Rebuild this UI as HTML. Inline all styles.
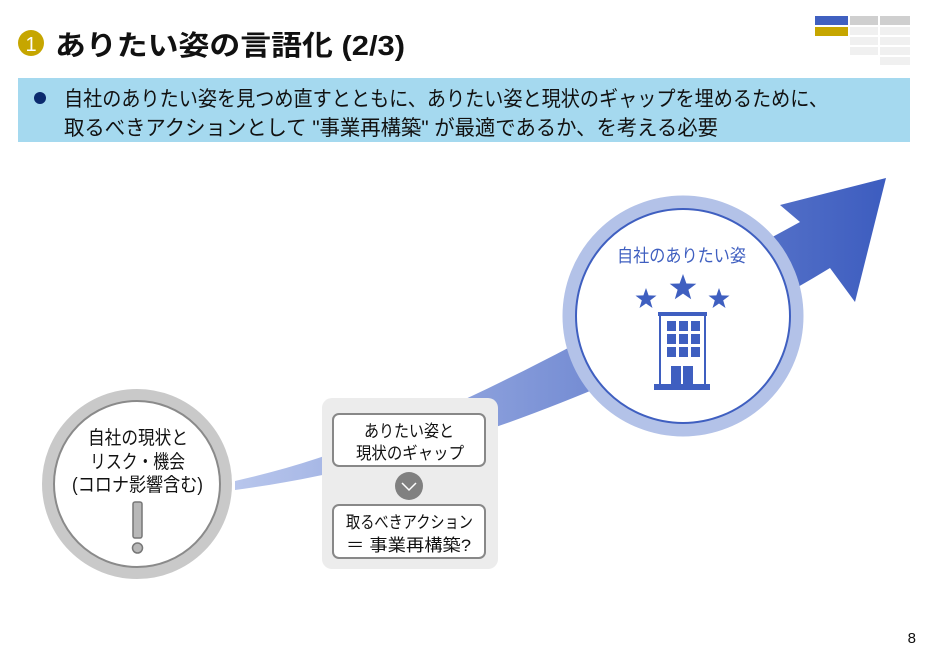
<!DOCTYPE html>
<html><head><meta charset="utf-8"><style>
body{margin:0;width:929px;height:656px;background:#fff;overflow:hidden;font-family:"Liberation Sans","Noto Sans CJK JP",sans-serif;}
</style></head><body>
<svg width="929" height="656" viewBox="0 0 929 656" xmlns="http://www.w3.org/2000/svg" style="position:absolute;left:0;top:0;font-family:'Liberation Sans','Noto Sans CJK JP',sans-serif">
<defs>
<linearGradient id="ag" x1="235" y1="0" x2="890" y2="0" gradientUnits="userSpaceOnUse">
<stop offset="0" stop-color="#b8c6ec"/><stop offset="1" stop-color="#3c5cbf"/>
</linearGradient>
</defs>
<!-- header -->
<circle cx="31" cy="43" r="13" fill="#c6a600"/>
<text x="31" y="51" font-size="20" fill="#fff" text-anchor="middle">1</text>
<text x="55" y="55" font-size="28" font-weight="bold" fill="#111" textLength="350" lengthAdjust="spacingAndGlyphs">ありたい姿の言語化 (2/3)</text>
<!-- nav -->
<rect x="815" y="16" width="33" height="9" fill="#4060c0"/>
<rect x="815" y="27" width="33" height="9" fill="#c6a600"/>
<rect x="850" y="16" width="28" height="9" fill="#cfcfcf"/>
<rect x="880" y="16" width="30" height="9" fill="#cfcfcf"/>
<g fill="#f0f0f0"><rect x="850" y="27" width="28" height="8"/><rect x="850" y="37" width="28" height="8"/><rect x="850" y="47" width="28" height="8"/>
<rect x="880" y="27" width="30" height="8"/><rect x="880" y="37" width="30" height="8"/><rect x="880" y="47" width="30" height="8"/><rect x="880" y="57" width="30" height="8"/></g>
<!-- band -->
<rect x="18" y="78" width="892" height="64" fill="#a5d9ef"/>
<circle cx="40" cy="98" r="6" fill="#0b2a6e"/>
<text x="64" y="106" font-size="21" fill="#111" textLength="764" lengthAdjust="spacingAndGlyphs">自社のありたい姿を見つめ直すとともに、ありたい姿と現状のギャップを埋めるために、</text>
<text x="64" y="135" font-size="21" fill="#111" textLength="654" lengthAdjust="spacingAndGlyphs">取るべきアクションとして "事業再構築" が最適であるか、を考える必要</text>
<!-- arrow -->
<path d="M235,481 C420,440 600,330 800,222 L780,205 L886,178 L855,302 L830,268 C620,395 420,465 235,490 Z" fill="url(#ag)"/>
<!-- left circle -->
<circle cx="137" cy="484" r="89" fill="#fff" stroke="#c9c9c9" stroke-width="12"/>
<circle cx="137" cy="484" r="83" fill="none" stroke="#8a8a8a" stroke-width="2"/>
<g font-size="19" fill="#111">
<text x="88" y="444" textLength="100" lengthAdjust="spacingAndGlyphs">自社の現状と</text>
<text x="90" y="468" textLength="95" lengthAdjust="spacingAndGlyphs">リスク・機会</text>
<text x="72" y="491" textLength="131" lengthAdjust="spacingAndGlyphs">(コロナ影響含む)</text>
</g>
<rect x="133" y="502" width="9" height="36" rx="2" fill="#b8b8b8" stroke="#777" stroke-width="1.5"/>
<circle cx="137.5" cy="548" r="5" fill="#b8b8b8" stroke="#777" stroke-width="1.5"/>
<!-- middle box -->
<rect x="322" y="398" width="176" height="171" rx="10" fill="#ececec"/>
<rect x="333" y="414" width="152" height="52" rx="6" fill="#fff" stroke="#888" stroke-width="2"/>
<rect x="333" y="505" width="152" height="53" rx="6" fill="#fff" stroke="#888" stroke-width="2"/>
<g font-size="17" fill="#111">
<text x="364" y="437" textLength="90" lengthAdjust="spacingAndGlyphs">ありたい姿と</text>
<text x="356" y="459" textLength="108" lengthAdjust="spacingAndGlyphs">現状のギャップ</text>
<text x="346" y="528" textLength="127" lengthAdjust="spacingAndGlyphs">取るべきアクション</text>
<text x="346" y="551" textLength="125" lengthAdjust="spacingAndGlyphs">＝ 事業再構築?</text>
</g>
<circle cx="409" cy="486" r="14" fill="#808080"/>
<path d="M402,483 L409,490 L416,483" fill="none" stroke="#fff" stroke-width="1.5"/>
<!-- right circle -->
<circle cx="683" cy="316" r="114" fill="#fff" stroke="#b3c2e8" stroke-width="13"/>
<circle cx="683" cy="316" r="107" fill="none" stroke="#3f5fc0" stroke-width="2"/>
<text x="617" y="262" font-size="18" fill="#3f5fc0" textLength="129" lengthAdjust="spacingAndGlyphs">自社のありたい姿</text>
<g fill="#3f5fc0">
<polygon points="646,288 648.6,295.4 656.5,295.6 650.2,300.4 652.5,308 646,303.5 639.5,308 641.8,300.4 635.5,295.6 643.4,295.4"/>
<polygon points="683,274 686.4,283.5 696.3,283.7 688.4,289.8 691.2,299.3 683,293.6 674.8,299.3 677.6,289.8 669.7,283.7 679.6,283.5"/>
<polygon points="719,288 721.6,295.4 729.5,295.6 723.2,300.4 725.5,308 719,303.5 712.5,308 714.8,300.4 708.5,295.6 716.4,295.4"/>
<rect x="654" y="384" width="56" height="6"/>
<rect x="667" y="321" width="9" height="10"/><rect x="679" y="321" width="9" height="10"/><rect x="691" y="321" width="9" height="10"/>
<rect x="667" y="334" width="9" height="10"/><rect x="679" y="334" width="9" height="10"/><rect x="691" y="334" width="9" height="10"/>
<rect x="667" y="347" width="9" height="10"/><rect x="679" y="347" width="9" height="10"/><rect x="691" y="347" width="9" height="10"/>
<rect x="671" y="366" width="10" height="18"/><rect x="683" y="366" width="10" height="18"/>
</g>
<rect x="660" y="315" width="45" height="70" fill="none" stroke="#3f5fc0" stroke-width="2"/>
<rect x="658" y="312" width="49" height="4" fill="#3f5fc0"/>
<text x="916" y="643" font-size="15" fill="#111" text-anchor="end">8</text>
</svg>
</body></html>
